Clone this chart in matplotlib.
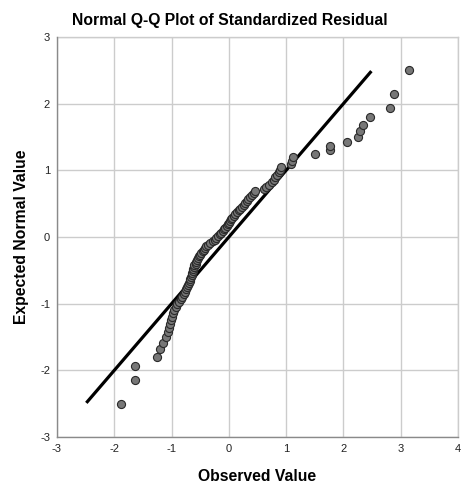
import matplotlib
matplotlib.use("Agg")
import matplotlib.pyplot as plt

plt.rcParams['font.family'] = ['Liberation Sans', 'DejaVu Sans']

# Expected normal values (rank-based)
expected = [
    -2.498, -2.139, -1.940, -1.797, -1.684, -1.589, -1.505, -1.432, -1.365, -1.304,
    -1.248, -1.196, -1.146, -1.099, -1.054, -1.012, -0.971, -0.932, -0.894, -0.857,
    -0.821, -0.786, -0.753, -0.720, -0.688, -0.657, -0.626, -0.596, -0.567, -0.538,
    -0.509, -0.481, -0.453, -0.425, -0.398, -0.371, -0.344, -0.318, -0.292, -0.266,
    -0.240, -0.214, -0.189, -0.163, -0.138, -0.113, -0.088, -0.063, -0.038, -0.013,
    0.013, 0.038, 0.063, 0.088, 0.113, 0.138, 0.163, 0.189, 0.214, 0.240,
    0.266, 0.292, 0.318, 0.344, 0.371, 0.398, 0.425, 0.453, 0.481, 0.509,
    0.538, 0.567, 0.596, 0.626, 0.657, 0.688, 0.720, 0.753, 0.786, 0.821,
    0.857, 0.894, 0.932, 0.971, 1.012, 1.054, 1.099, 1.146, 1.196, 1.248,
    1.304, 1.365, 1.432, 1.505, 1.589, 1.684, 1.797, 1.940, 2.139, 2.498,
]

# Observed standardized residuals (sorted)
observed = [
    -1.89, -1.645, -1.635, -1.26, -1.20, -1.15, -1.09, -1.07, -1.05, -1.03,
    -1.01, -1.00, -0.98, -0.96, -0.93, -0.90, -0.87, -0.84, -0.81, -0.79,
    -0.77, -0.75, -0.73, -0.71, -0.69, -0.68, -0.67, -0.66, -0.65, -0.64,
    -0.63, -0.62, -0.61, -0.60, -0.58, -0.57, -0.55, -0.54, -0.52, -0.50,
    -0.48, -0.46, -0.44, -0.42, -0.40, -0.36, -0.33, -0.28, -0.25, -0.22,
    -0.19, -0.16, -0.13, -0.10, -0.08, -0.06, -0.04, -0.02, 0.00, 0.02,
    0.04, 0.06, 0.09, 0.11, 0.14, 0.17, 0.20, 0.23, 0.26, 0.28,
    0.31, 0.34, 0.37, 0.40, 0.44, 0.46, 0.62, 0.65, 0.70, 0.75,
    0.79, 0.81, 0.84, 0.87, 0.89, 0.91, 1.08, 1.10, 1.12, 1.51,
    1.76, 1.77, 2.06, 2.25, 2.29, 2.34, 2.47, 2.82, 2.88, 3.14,
]

ref_line = [-2.47, 2.47]
x_ticks = [-3, -2, -1, 0, 1, 2, 3, 4]
y_ticks = [-3, -2, -1, 0, 1, 2, 3]

fig = plt.figure(figsize=(4.75, 4.95), dpi=100)
ax = fig.add_axes([57/475, 1 - 437/495, (458-57)/475, (437-37)/495])

ax.set_xlim(-3, 4)
ax.set_ylim(-3, 3)
ax.set_xticks(x_ticks)
ax.set_yticks(y_ticks)
ax.set_xticklabels([str(t) for t in x_ticks])
ax.set_yticklabels([str(t) for t in y_ticks])
ax.tick_params(length=0, labelsize=8, pad=5, colors='#222222')
ax.grid(True, color='#cccccc', linewidth=1.0)
ax.set_axisbelow(True)
for s in ['top', 'right']:
    ax.spines[s].set_visible(False)
for s in ['left', 'bottom']:
    ax.spines[s].set_color('#8a8a8a')
    ax.spines[s].set_linewidth(1.0)

# grid lines at the top and right edges
ax.axhline(3, color='#cccccc', linewidth=1.0, zorder=0, clip_on=False)
ax.axvline(4, color='#cccccc', linewidth=1.0, zorder=0, clip_on=False)

ax.plot(ref_line, ref_line, color='black', linewidth=2.3, zorder=2)
ax.scatter(observed, expected, s=34, facecolor='#777777', edgecolor='#2a2a2a',
           linewidth=0.8, zorder=3)

fig.text(230/475, 1 - 21/495, 'Normal Q-Q Plot of Standardized Residual',
         ha='center', va='center', fontsize=11.3, fontweight='bold')
ax.set_xlabel('Observed Value', fontsize=11.3, fontweight='bold', labelpad=11)
ax.set_ylabel('Expected Normal Value', fontsize=11.3, fontweight='bold', labelpad=8)

fig.savefig('out.png', dpi=100)
